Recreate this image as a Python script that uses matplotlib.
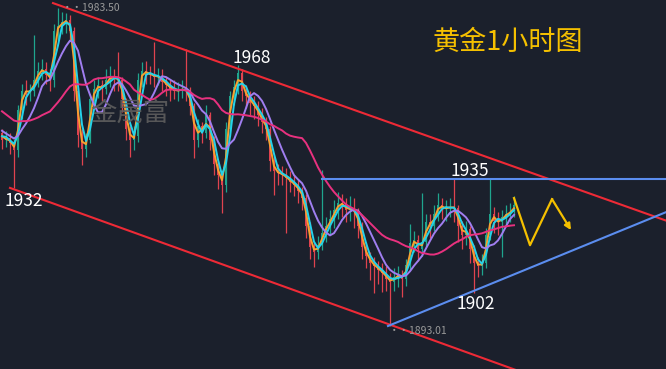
import numpy as np
import pandas as pd
import matplotlib
matplotlib.use("Agg")
import matplotlib.pyplot as plt

plt.rcParams["font.family"] = ["Noto Sans CJK SC", "DejaVu Sans"]

# ── data (gold, 1h bars, one bar = 4 px in the reference) ──
warmup_closes = [1964, 1962, 1961, 1960, 1958, 1959, 1957, 1955, 1956, 1953,
                 1954, 1952, 1951, 1952, 1950, 1948, 1949, 1947, 1948]

closes = [1946.0, 1946.5, 1945.0, 1943.0, 1954.5, 1960.0, 1959.5, 1960.0, 1963.0, 1965.5,
          1966.0, 1964.5, 1963.0, 1977.0, 1978.5, 1979.5, 1980.0, 1977.0, 1960.0, 1947.5,
          1943.5, 1946.0, 1957.5, 1960.5, 1961.5, 1960.5, 1963.0, 1964.0, 1963.5, 1963.0,
          1957.5, 1949.0, 1946.0, 1947.0, 1963.0, 1965.5, 1965.0, 1964.5, 1964.0, 1964.0,
          1962.5, 1961.5, 1960.5, 1960.0, 1960.0, 1960.5, 1960.0, 1955.5, 1946.0, 1950.0,
          1948.0, 1953.0, 1946.0, 1939.0, 1936.0, 1933.0, 1949.0, 1958.5, 1961.0, 1965.0,
          1960.0, 1958.5, 1956.5, 1955.5, 1953.0, 1951.0, 1949.0, 1940.0, 1937.0, 1936.5,
          1936.0, 1935.0, 1934.0, 1933.0, 1931.5, 1929.5, 1921.5, 1915.5, 1914.0, 1916.0,
          1919.5, 1921.5, 1923.5, 1926.0, 1928.0, 1927.5, 1926.0, 1926.5, 1925.5, 1921.5,
          1915.5, 1913.0, 1911.0, 1910.0, 1909.0, 1908.0, 1906.5, 1905.5, 1907.0, 1907.5,
          1906.5, 1910.5, 1916.5, 1917.5, 1915.0, 1917.0, 1922.5, 1921.5, 1925.0, 1927.5,
          1926.5, 1926.5, 1927.0, 1926.5, 1921.5, 1919.0, 1920.5, 1915.0, 1911.0, 1910.0,
          1911.0, 1919.0, 1925.0, 1923.0, 1922.5, 1924.0, 1925.0, 1925.5, 1927.5]

highs = [1949.0, 1948.5, 1948.0, 1946.0, 1956.0, 1962.0, 1963.0, 1962.0, 1975.8, 1968.0,
         1969.0, 1968.0, 1966.0, 1979.0, 1983.5, 1982.5, 1982.0, 1981.5, 1978.0, 1961.0,
         1949.0, 1948.0, 1959.0, 1963.0, 1964.0, 1963.0, 1966.0, 1967.0, 1966.0, 1971.0,
         1964.0, 1958.0, 1950.0, 1950.0, 1965.0, 1968.0, 1968.5, 1967.0, 1973.8, 1966.5,
         1966.0, 1964.0, 1963.0, 1963.0, 1962.5, 1963.0, 1971.8, 1961.0, 1956.5, 1952.0,
         1951.0, 1956.0, 1954.0, 1947.0, 1940.0, 1937.0, 1951.0, 1960.0, 1963.0, 1967.3,
         1966.0, 1961.5, 1960.0, 1958.5, 1957.0, 1955.0, 1952.5, 1950.0, 1941.0, 1939.0,
         1938.5, 1938.0, 1937.0, 1936.0, 1934.5, 1932.5, 1930.5, 1922.5, 1917.0, 1918.5,
         1937.4, 1924.0, 1926.0, 1929.0, 1931.0, 1930.5, 1929.5, 1930.0, 1929.5, 1926.5,
         1922.5, 1917.0, 1914.0, 1912.5, 1911.5, 1911.0, 1910.0, 1908.0, 1909.5, 1910.0,
         1909.0, 1912.0, 1922.0, 1920.0, 1919.0, 1930.9, 1925.0, 1925.0, 1927.5, 1930.9,
         1929.5, 1929.0, 1929.5, 1935.1, 1927.5, 1923.0, 1923.0, 1921.5, 1916.0, 1912.5,
         1913.5, 1921.0, 1935.1, 1927.0, 1925.5, 1926.0, 1927.5, 1928.0, 1930.0]

lows = [1943.5, 1944.0, 1942.0, 1932.3, 1941.0, 1952.0, 1956.0, 1957.0, 1958.5, 1961.0,
        1963.0, 1962.0, 1960.0, 1961.0, 1974.0, 1976.0, 1976.5, 1974.0, 1957.0, 1944.0,
        1938.8, 1941.0, 1945.0, 1955.0, 1958.0, 1957.0, 1959.0, 1961.0, 1960.0, 1960.0,
        1954.0, 1946.0, 1941.0, 1943.0, 1945.5, 1961.0, 1962.0, 1962.0, 1961.0, 1961.5,
        1960.0, 1958.5, 1957.0, 1957.5, 1957.0, 1958.0, 1957.0, 1953.0, 1940.8, 1944.0,
        1945.0, 1946.5, 1943.0, 1936.0, 1932.0, 1925.2, 1931.0, 1947.0, 1956.0, 1959.0,
        1957.0, 1955.0, 1953.0, 1952.0, 1950.0, 1948.0, 1946.0, 1937.0, 1930.3, 1933.0,
        1933.0, 1919.5, 1931.0, 1930.0, 1928.0, 1926.0, 1918.0, 1912.0, 1909.8, 1912.0,
        1914.5, 1917.0, 1919.0, 1921.0, 1923.5, 1924.0, 1922.5, 1923.0, 1921.0, 1918.0,
        1912.0, 1909.5, 1906.0, 1902.4, 1905.0, 1902.7, 1903.0, 1893.01, 1903.0, 1904.0,
        1901.3, 1904.5, 1909.0, 1914.0, 1911.5, 1913.0, 1915.5, 1918.0, 1920.0, 1923.0,
        1923.5, 1923.0, 1924.0, 1922.5, 1917.0, 1915.0, 1916.0, 1911.0, 1902.4, 1907.0,
        1907.5, 1909.5, 1917.5, 1919.5, 1919.0, 1912.6, 1921.5, 1922.5, 1924.0]

# moving averages shown on the chart (periods in bars)
ma_periods = [2, 3, 7, 20]
ma_colors = ["#f7a130", "#25d3ea", "#a07ef0", "#e8317f"]

# annotation anchors: (bar, price)
channel_upper = [(12.75, 1984.9), (166.0, 1923.0)]
channel_lower = [(2.0, 1932.3), (166.0, 1865.1)]
resistance = [(80.0, 1934.8), (166.0, 1934.8)]
support = [(96.5, 1893.0), (166.0, 1925.4)]
forecast = [(128.0, 1929.4), (132.0, 1916.0), (137.5, 1929.1), (142.25, 1920.3)]

BG = "#1b202c"
UP = "#1fa58e"
DOWN = "#e0434f"

fig = plt.figure(figsize=(6.66, 3.69), dpi=100, facecolor=BG)
ax = fig.add_axes([0, 0, 1, 1], facecolor=BG)
ax.set_xlim(-0.5, 166.0)
ax.set_ylim(1880.76, 1985.78)
ax.axis("off")

# candles
c = np.array(closes)
o = np.r_[warmup_closes[-1], c[:-1]]
x = np.arange(len(c))
col = np.where(c >= o, UP, DOWN)
ax.vlines(x, lows, highs, colors=col, lw=0.9, zorder=2)
body = np.maximum(np.abs(c - o), 0.3)
ax.bar(x, body, bottom=np.minimum(o, c), width=0.6, color=col, zorder=2)

# moving averages, warmed up with earlier bars
full = pd.Series(warmup_closes + closes)
for n, mc in zip(ma_periods, ma_colors):
    ma = full.rolling(n, min_periods=1).mean().values[len(warmup_closes):]
    ax.plot(x, ma, color=mc, lw=1.4, zorder=3)

# trend lines
for pts, lc in [(channel_upper, "#ee2a36"), (channel_lower, "#ee2a36"),
                (resistance, "#5b8def"), (support, "#5b8def")]:
    xs, ys = zip(*pts)
    ax.plot(xs, ys, color=lc, lw=1.5, zorder=4)

# forecast zigzag
fx, fy = zip(*forecast)
ax.plot(fx[:-1], fy[:-1], color="#f5c000", lw=1.6, zorder=5)
ax.annotate("", xy=forecast[-1], xytext=forecast[-2],
            arrowprops=dict(arrowstyle="-|>", color="#f5c000", lw=1.6,
                            mutation_scale=9, shrinkA=0, shrinkB=0), zorder=5)

# labels
lbl = dict(color="white", fontsize=12.5, ha="center", va="center", zorder=6)
ax.text(5.5, 1928.6, "1932", **lbl)
ax.text(62.5, 1969.3, "1968", **lbl)
ax.text(117.0, 1937.1, "1935", **lbl)
ax.text(118.5, 1899.3, "1902", **lbl)

small = dict(color="#9a9a9a", fontsize=7.5, ha="left", va="center", zorder=6)
ax.text(15.0, 1983.4, "\u00b7\u00b71983.50", **small)
ax.text(96.8, 1891.5, "\u00b7\u00b71893.01", **small)

ax.text(126.5, 1973.8, "黄金1小时图", color="#f5c000", fontsize=19.5,
        ha="center", va="center", zorder=6)
ax.text(32.0, 1953.6, "金晟富", color="#5e5e5e", alpha=0.9, fontsize=19,
        ha="center", va="center", zorder=6)

fig.savefig("out.png", dpi=100, facecolor=BG)
